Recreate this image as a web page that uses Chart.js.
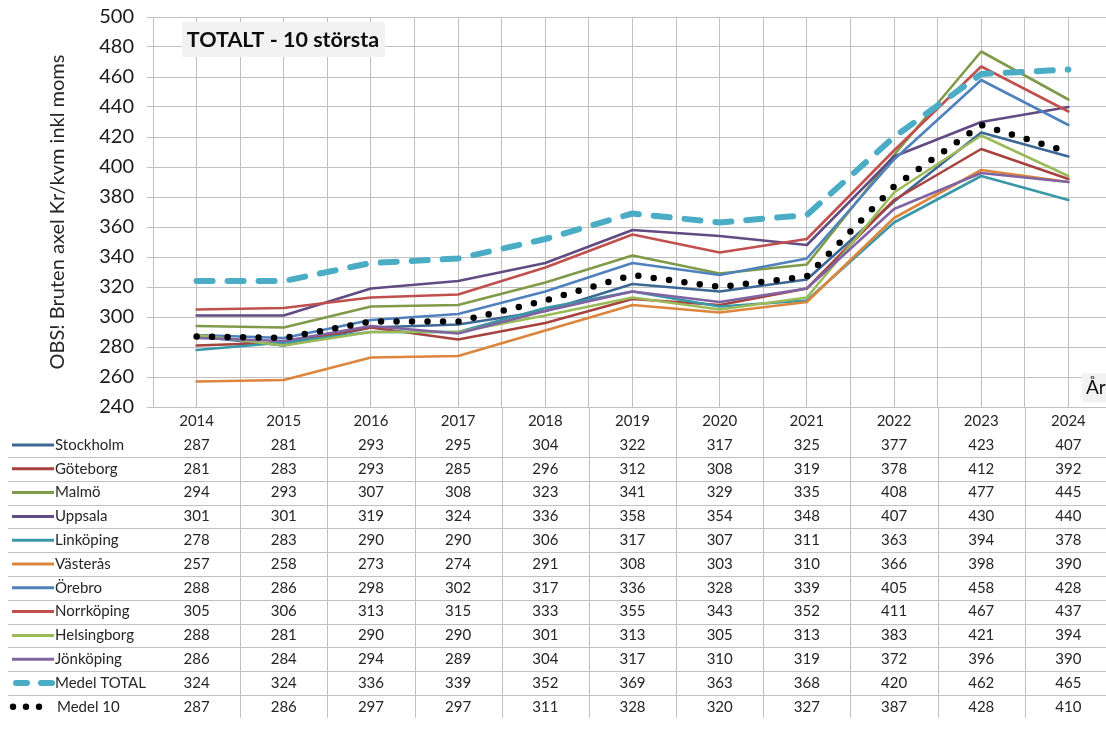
<!DOCTYPE html>
<html>
<head>
<meta charset="utf-8">
<script src="https://cdn.jsdelivr.net/npm/chart.js@4/dist/chart.umd.min.js"></script>
<style>
html,body{margin:0;padding:0;background:#fff;overflow:hidden;}
#wrap{position:relative;width:1112px;height:747px;}
</style>
</head>
<body>
<div id="wrap"><canvas id="c"></canvas></div>
<script>
const years = ['2014','2015','2016','2017','2018','2019','2020','2021','2022','2023','2024'];
const yTicks = {min: 240, max: 500, step: 20};
const stockholm   = [287,281,293,295,304,322,317,325,377,423,407];
const goteborg    = [281,283,293,285,296,312,308,319,378,412,392];
const malmo       = [294,293,307,308,323,341,329,335,408,477,445];
const uppsala     = [301,301,319,324,336,358,354,348,407,430,440];
const linkoping   = [278,283,290,290,306,317,307,311,363,394,378];
const vasteras    = [257,258,273,274,291,308,303,310,366,398,390];
const orebro      = [288,286,298,302,317,336,328,339,405,458,428];
const norrkoping  = [305,306,313,315,333,355,343,352,411,467,437];
const helsingborg = [288,281,290,290,301,313,305,313,383,421,394];
const jonkoping   = [286,284,294,289,304,317,310,319,372,396,390];
const medelTotal  = [324,324,336,339,352,369,363,368,420,462,465];
const medel10     = [287,286,297,297,311,328,320,327,387,428,410];

const seriesNames = ['Stockholm','Göteborg','Malmö','Uppsala','Linköping','Västerås','Örebro','Norrköping','Helsingborg','Jönköping','Medel TOTAL','Medel 10'];
const seriesData = [stockholm,goteborg,malmo,uppsala,linkoping,vasteras,orebro,norrkoping,helsingborg,jonkoping,medelTotal,medel10];
const seriesColors = ['#3d6896','#a8423f','#7f9a48','#614b82','#3a97a8','#dc853c','#4f81bd','#c0504d','#9bbb59','#8064a2','#4bacc6','#000000'];

const chartTitle = 'TOTALT - 10 största';
const yTitle = 'OBS! Bruten axel Kr/kvm inkl moms';
const xTitle = 'År';

const FONT = 'Lato, "Open Sans", sans-serif';
const GRID = '#c0c0c0';

const datasets = seriesNames.map((name, i) => {
  const ds = {
    label: name,
    data: seriesData[i],
    borderColor: seriesColors[i],
    backgroundColor: seriesColors[i],
    borderWidth: 2.6,
    pointRadius: 0,
    tension: 0,
    fill: false,
    order: -i,
    borderCapStyle: 'round',
    borderJoinStyle: 'round'
  };
  if (name === 'Medel TOTAL') { ds.borderWidth = 6; ds.borderDash = [16, 15]; }
  if (name === 'Medel 10') { ds.borderWidth = 6.5; ds.borderDash = [0, 15.5]; }
  return ds;
});

const overlay = {
  id: 'overlay',
  afterDraw(chart) {
    const ctx = chart.ctx;
    const xs = chart.scales.x;
    const area = chart.chartArea;
    const n = years.length;
    const w = (area.right - area.left) / n;
    ctx.save();
    // table vertical lines
    ctx.strokeStyle = GRID; ctx.lineWidth = 1;
    for (let k = 1; k <= n; k++) {
      const x = Math.round(area.left + k * w) + 0.5;
      ctx.beginPath(); ctx.moveTo(x, area.bottom); ctx.lineTo(x, 718); ctx.stroke();
    }
    // header years
    ctx.fillStyle = '#262626';
    ctx.font = '15px ' + FONT;
    ctx.textAlign = 'center'; ctx.textBaseline = 'middle';
    years.forEach((y, i) => ctx.fillText(y, xs.getPixelForValue(i), 421));
    // rows
    const rowH = 23.8;
    for (let r = 0; r < seriesNames.length; r++) {
      const cy = 445 + r * rowH;
      if (r < seriesNames.length - 1) {
        const ly = Math.round(cy + 12) + 0.5;
        ctx.strokeStyle = GRID; ctx.lineWidth = 1; ctx.setLineDash([]);
        ctx.beginPath(); ctx.moveTo(8, ly); ctx.lineTo(chart.width, ly); ctx.stroke();
      }
      const ds = chart.data.datasets[r];
      // legend key
      ctx.strokeStyle = ds.borderColor;
      ctx.lineCap = 'round';
      if (ds.label === 'Medel TOTAL') {
        ctx.lineWidth = 6; ctx.setLineDash([]);
        ctx.beginPath(); ctx.moveTo(16, cy); ctx.lineTo(27, cy); ctx.stroke();
        ctx.beginPath(); ctx.moveTo(41, cy); ctx.lineTo(52, cy); ctx.stroke();
      } else if (ds.label === 'Medel 10') {
        ctx.fillStyle = '#000';
        [13, 26, 39].forEach(x => { ctx.beginPath(); ctx.arc(x, cy, 3.2, 0, Math.PI * 2); ctx.fill(); });
      } else {
        ctx.lineWidth = 3; ctx.setLineDash([]); ctx.lineCap = 'butt';
        ctx.beginPath(); ctx.moveTo(12, cy); ctx.lineTo(54, cy); ctx.stroke();
      }
      ctx.fillStyle = '#262626';
      ctx.font = '15px ' + FONT;
      ctx.textAlign = 'left';
      ctx.fillText(ds.label, ds.label === 'Medel 10' ? 57 : 55, cy);
      ctx.textAlign = 'center';
      ds.data.forEach((v, i) => ctx.fillText(String(v), xs.getPixelForValue(i), cy));
    }
    // chart title box
    ctx.font = 'bold 21.5px ' + FONT;
    const tcx = 283, tcy = 40;
    ctx.fillStyle = '#f2f2f2';
    ctx.fillRect(182, 22, 203, 35);
    ctx.fillStyle = '#0d0d0d';
    ctx.textAlign = 'center';
    ctx.fillText(chartTitle, tcx, tcy);
    // x title box
    ctx.fillStyle = '#f2f2f2';
    ctx.fillRect(1082, 373, 40, 29);
    ctx.fillStyle = '#0d0d0d';
    ctx.font = '19px ' + FONT;
    ctx.textAlign = 'left';
    ctx.fillText(xTitle, 1086, 388);
    ctx.restore();
  }
};

new Chart(document.getElementById('c'), {
  type: 'line',
  data: { labels: years, datasets },
  options: {
    responsive: true,
    maintainAspectRatio: false,
    animation: false,
    layout: { padding: { top: 17, left: 0, right: 0, bottom: 0 } },
    plugins: { legend: { display: false }, tooltip: { enabled: false }, title: { display: false } },
    scales: {
      x: {
        type: 'category',
        offset: true,
        grid: { offset: false, color: GRID, drawTicks: false },
        border: { display: true, color: GRID },
        ticks: { display: false },
        afterFit(s) { s.height = 340; }
      },
      x2: {
        type: 'category',
        position: 'bottom',
        labels: years,
        offset: true,
        grid: { offset: true, color: GRID, drawTicks: false },
        border: { display: false },
        ticks: { display: false },
        afterFit(s) { s.height = 0; }
      },
      y: {
        min: yTicks.min, max: yTicks.max,
        ticks: { stepSize: yTicks.step, color: '#1a1a1a', font: { size: 20, family: FONT }, padding: 13 },
        grid: { color: GRID, tickLength: 6 },
        border: { color: GRID },
        title: { display: true, text: yTitle, color: '#262626', font: { size: 20, family: FONT }, padding: { top: 46, bottom: 0 } },
        afterFit(s) { s.width = 153; s.paddingTop = 0; s.paddingBottom = 0; }
      }
    }
  },
  plugins: [overlay]
});
</script>
</body>
</html>
